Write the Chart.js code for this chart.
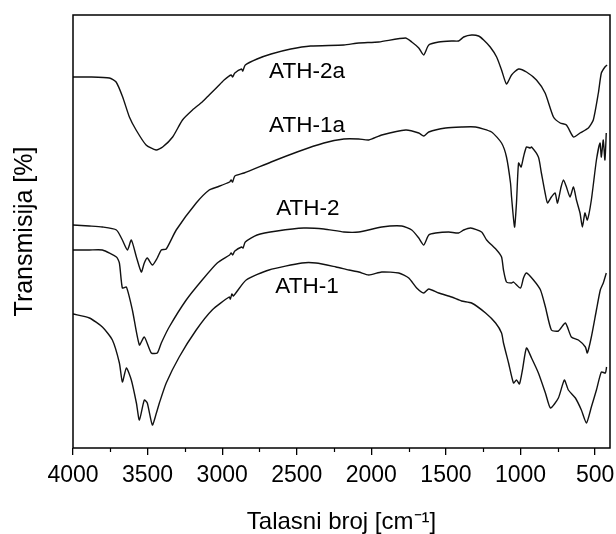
<!DOCTYPE html>
<html><head><meta charset="utf-8">
<script src="https://cdn.jsdelivr.net/npm/chart.js@4.4.1/dist/chart.umd.min.js"></script>
<style>html,body{margin:0;padding:0;background:#fff}canvas{display:block}</style>
</head><body>
<canvas id="c" width="616" height="534"></canvas>
<script>
// ---- data (wavenumber in cm^-1, transmission in arbitrary units) ----
const seriesNames = ['ATH-2a', 'ATH-1a', 'ATH-2', 'ATH-1'];

const ath2aWn = [4000,3890,3756,3711,3667,3622,3577,3510,3443,3399,3332,3266,3199,3134,3087,3033,2987,2940,2930,2915,2870,2862,2845,2766,2672,2540,2407,2184,2084,1950,1771,1729,1682,1649,1615,1548,1462,1415,1381,1328,1281,1247,1203,1160,1127,1094,1060,1013,960,893,835,779,734,692,645,601,545,512,478,458,434,420];
const ath2aT  = [371,371,370,366,351,331,318,303,298,301,311,328,338,346,353,361,368,373,371,375,379,377,383,389,394,399,402,403,405,406,410,406,400,393,403,406,407,407,411,413,412,408,401,391,378,364,373,379,376,368,355,331,325,323,311,315,320,328,355,375,381,383];

const ath1aWn = [4000,3890,3803,3709,3669,3635,3609,3575,3542,3522,3502,3468,3435,3408,3375,3308,3174,3087,3033,2950,2940,2930,2915,2853,2672,2498,2318,2184,2084,2017,1930,1769,1682,1649,1615,1502,1395,1301,1194,1127,1094,1067,1060,1040,1027,1013,996,980,960,935,926,880,860,835,819,793,768,752,728,712,692,668,645,625,601,585,568,552,525,491,467,458,445,434,425];
const ath1aT  = [223,222,221,218,208,198,208,191,176,185,190,183,190,198,199,218,245,258,261,266,268,266,272,275,286,296,305,309,309,308,313,318,315,312,316,320,321,321,316,305,291,265,251,221,245,285,281,291,301,300,301,291,275,255,245,251,255,245,261,268,261,251,261,248,235,221,235,228,248,288,305,291,308,288,315];

const ath2Wn = [4000,3890,3803,3709,3689,3669,3642,3602,3555,3522,3475,3435,3408,3355,3241,3134,3033,2950,2940,2930,2915,2870,2860,2845,2766,2632,2452,2318,2184,2084,1930,1796,1729,1682,1649,1615,1569,1482,1415,1381,1334,1261,1227,1160,1127,1114,1094,1060,1047,1000,980,960,913,866,833,793,746,699,659,612,565,552,525,491,465,445,425];
const ath2T  = [198,198,198,191,185,160,161,138,103,111,95,95,105,121,148,168,185,193,195,193,197,201,200,206,213,217,220,219,216,216,221,222,218,210,203,213,215,216,215,218,220,216,208,198,191,178,166,165,166,160,170,175,168,158,141,118,117,125,111,108,101,95,111,138,158,165,175];

const ath1Wn = [4000,3890,3803,3736,3689,3669,3642,3609,3575,3555,3522,3502,3468,3441,3421,3375,3288,3174,3067,2953,2945,2935,2925,2839,2686,2465,2371,2237,2150,2084,2017,1930,1816,1749,1696,1649,1615,1548,1462,1395,1328,1234,1167,1127,1114,1080,1047,1027,1007,987,960,926,880,833,799,746,706,679,632,592,558,525,491,458,431,423];
const ath1T  = [134,130,121,108,85,66,80,68,45,28,48,45,23,35,45,65,91,118,138,151,149,154,152,168,178,185,185,181,178,176,173,176,175,170,160,155,159,155,151,147,145,135,125,115,105,85,65,68,64,78,100,90,75,55,40,50,68,58,50,38,25,41,58,76,75,81];

const xTickValues = [4000, 3500, 3000, 2500, 2000, 1500, 1000, 500];
const xMinorTickValues = [3750, 3250, 2750, 2250, 1750, 1250, 750];

// ---- presentation ----
const FONT = '"Liberation Sans", Arial, Helvetica, sans-serif';
const curveLabelAnchors = [ {x: 2431, y: 376}, {x: 2431, y: 322}, {x: 2425, y: 239}, {x: 2431, y: 161} ];

function toPoints(wn, t) { return wn.map((w, i) => ({x: w, y: t[i]})); }
const seriesData = [toPoints(ath2aWn, ath2aT), toPoints(ath1aWn, ath1aT), toPoints(ath2Wn, ath2T), toPoints(ath1Wn, ath1T)];

const framePlugin = {
  id: 'frameAndLabels',
  afterDraw(chart) {
    const {ctx, chartArea: a, scales: {x, y}} = chart;
    ctx.save();
    ctx.strokeStyle = '#000';
    ctx.lineWidth = 1.5;
    ctx.strokeRect(a.left, a.top, a.right - a.left, a.bottom - a.top);
    ctx.lineWidth = 1.2;
    ctx.beginPath();
    xMinorTickValues.forEach(v => {
      const px = Math.round(x.getPixelForValue(v)) + 0.5;
      ctx.moveTo(px, a.bottom);
      ctx.lineTo(px, a.bottom + 4);
    });
    ctx.stroke();
    ctx.font = '22.5px ' + FONT;
    ctx.fillStyle = '#000';
    ctx.textAlign = 'center';
    ctx.textBaseline = 'middle';
    seriesNames.forEach((n, i) => {
      ctx.fillText(n, x.getPixelForValue(curveLabelAnchors[i].x), y.getPixelForValue(curveLabelAnchors[i].y));
    });
    ctx.restore();
  }
};

new Chart(document.getElementById('c'), {
  type: 'line',
  data: {
    datasets: seriesNames.map((n, i) => ({
      label: n,
      data: seriesData[i],
      borderColor: '#111',
      borderWidth: 1.4,
      pointRadius: 0,
      tension: 0.2,
      fill: false
    }))
  },
  options: {
    responsive: false,
    animation: false,
    devicePixelRatio: 1,
    layout: {padding: {top: 15, right: 6, left: 0, bottom: 0}},
    plugins: {legend: {display: false}, tooltip: {enabled: false}},
    scales: {
      x: {
        type: 'linear', reverse: true, min: 400, max: 4000,
        afterBuildTicks: s => { s.ticks = xTickValues.map(v => ({value: v})); },
        afterFit: s => { s.height = 86; s.paddingLeft = 0; s.paddingRight = 0; },
        ticks: {color: '#000', font: {family: FONT, size: 23}, padding: 7, maxRotation: 0, autoSkip: false,
                callback: v => String(v)},
        grid: {display: true, drawOnChartArea: false, drawTicks: true, tickLength: 7, color: '#000', lineWidth: 1.3},
        border: {display: false},
        title: {display: true, text: 'Talasni broj [cm\u207B\u00B9]', color: '#000',
                font: {family: FONT, size: 24, lineHeight: 1}, padding: {top: 0, bottom: 0}}
      },
      y: {
        min: 0, max: 433,
        afterFit: s => { s.width = 73; s.paddingTop = 0; s.paddingBottom = 0; },
        ticks: {display: false},
        grid: {display: false},
        border: {display: false},
        title: {display: true, text: 'Transmisija [%]', color: '#000',
                font: {family: FONT, size: 25, lineHeight: 1}, padding: {top: 12.5, bottom: 0}}
      }
    }
  },
  plugins: [framePlugin]
});
</script>
</body></html>
